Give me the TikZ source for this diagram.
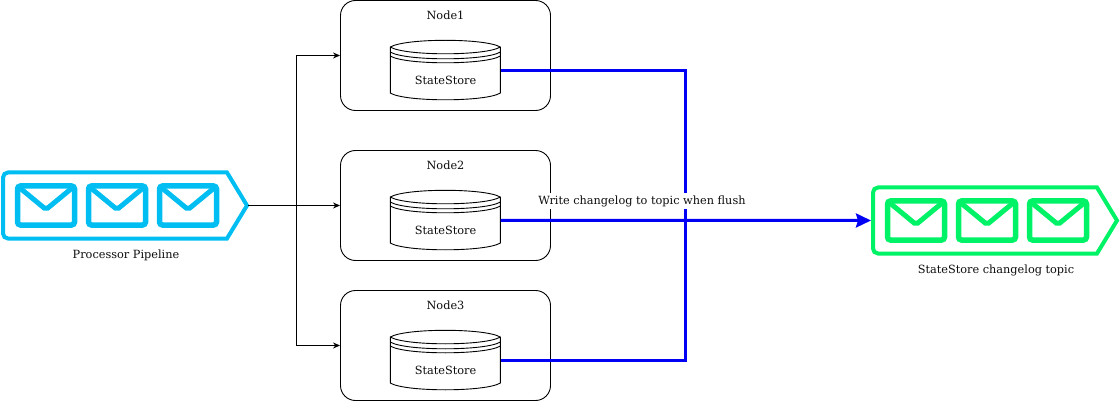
\documentclass[tikz,border=0pt]{standalone}
\usepackage{fontspec}
\setmainfont{DejaVu Serif}
\usepackage{xcolor}
\usetikzlibrary{arrows.meta, positioning, calc}
\definecolor{pipeblue}{HTML}{00BEF2}
\definecolor{topicgreen}{HTML}{00F266}
\tikzstyle{hostbox} = [rectangle, rounded corners=15pt, minimum width=210pt, minimum height=110pt, inner sep=0pt, draw=black, line width=0.9pt]
\tikzstyle{store} = [rectangle, minimum width=110pt, minimum height=60pt, inner sep=0pt]
\tikzstyle{caption} = [inner sep=0pt, font=\fontsize{11.3pt}{13pt}\selectfont, text=black!95]
\tikzstyle{arrow} = [line width=0.9pt, -{Stealth[length=7pt, width=6pt]}]
\tikzstyle{flow} = [line width=3pt, draw={rgb,255:red,0;green,0;blue,245}]
\tikzset{
    pics/queue/.style={code={
        \draw [#1, line width=4pt, line join=miter] (102,-33) [rounded corners=5pt] -- (-122,-33) -- (-122,33) [sharp corners] -- (102,33) -- (122,0) -- cycle;
        \coordinate (-tip) at (123,0);
        \coordinate (-back) at (-124,0);
        \foreach \cx in {-79,-8,63} {
            \draw [#1, line width=5.5pt, rounded corners=3pt] (\cx-28.5,-19.5) rectangle (\cx+28.5,19.5);
            \draw [#1, line width=5pt, rounded corners=2pt] (\cx-28.5,-19.5) -- (\cx,4) -- (\cx+28.5,-19.5);
        }
    }}
}
\newcommand{\drawstore}[1]{
    \draw [line width=0.9pt, fill=white] ($(#1.north west)+(0,7)$)
        .. controls +(15,-9) and +(-15,-9) .. ++(110,0)
        -- ++(0,46)
        .. controls +(-15,9) and +(15,9) .. ++(-110,0) -- cycle;
    \foreach \dy in {7,12,16} {
        \draw [line width=0.9pt] ($(#1.north west)+(0,\dy)$)
            .. controls +(15,9) and +(-15,9) .. ++(110,0);
    }
}
\begin{document}
\begin{tikzpicture}[x=1pt, y=-1pt]
\useasboundingbox (0,0) rectangle (1120,401);
% hosts
\foreach \i/\cy in {1/55.5, 2/205.5, 3/345.5} {
    \node [hostbox] (host\i) at (445.5,\cy) {};
    \node [caption] (title\i) at ($(host\i.north)+(0,15)$) {Node\i};
    \node [store, below=40pt of host\i.north] (store\i) {};
    \drawstore{store\i}
    \node [caption] (storelabel\i) at ($(store\i)+(0,10)$) {StateStore};
}
% queues
\pic (pipeline) at (125,205.5) {queue=pipeblue};
\pic (topic) at (995,220.5) {queue=topicgreen};
\node [caption] (pipelabel) at (126,255) {Processor Pipeline};
\node [caption] (topiclabel) at (996,270) {StateStore changelog topic};
% connectors
\coordinate (split) at (296,205.5);
\draw [arrow] (pipeline-tip) -- (host2.west);
\draw [arrow] (split) |- (host1.west);
\draw [arrow] (split) |- (host3.west);
\draw [flow] (store1.east) -| (685,220.5);
\draw [flow] (store3.east) -| (685,220.5);
\draw [flow, -{Stealth[length=15pt, width=14pt, inset=2pt]}] (store2.east) -- (topic-back);
\node [caption, fill=white, inner xsep=1pt, inner ysep=2pt] (flushlabel) at (642,201) {Write changelog to topic when flush};
\end{tikzpicture}
\end{document}
